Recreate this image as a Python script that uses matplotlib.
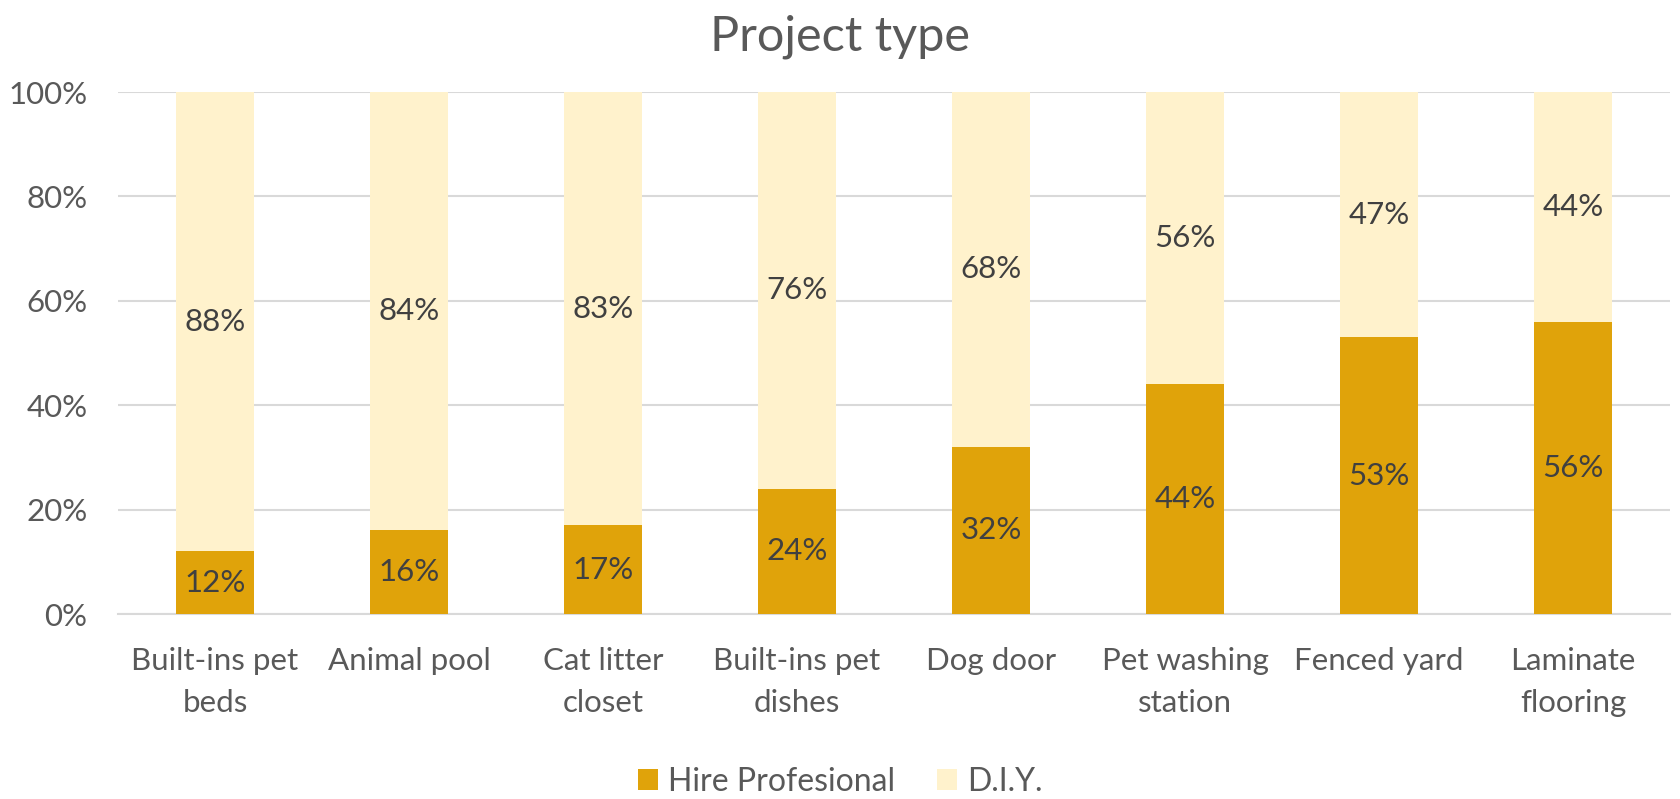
import numpy as np
import matplotlib
matplotlib.use("Agg")
import matplotlib.pyplot as plt

plt.rcParams['font.family'] = ['Lato', 'DejaVu Sans']

# данные
categories = ['Built-ins pet\nbeds', 'Animal pool', 'Cat litter\ncloset', 'Built-ins pet\ndishes',
              'Dog door', 'Pet washing\nstation', 'Fenced yard', 'Laminate\nflooring']
hire = [12, 16, 17, 24, 32, 44, 53, 56]
diy = [88, 84, 83, 76, 68, 56, 47, 44]

c_hire = '#E0A30A'
c_diy = '#FFF2CC'
grid_c = '#D9D9D9'
txt_c = '#595959'
lab_c = '#404040'

fig = plt.figure(figsize=(16.8, 7.99), dpi=100)
ax = fig.add_axes([118 / 1680, 1 - 614 / 799, 1552 / 1680, (614 - 92) / 799])

x = np.arange(len(categories))
b1 = ax.bar(x, hire, width=0.4, color=c_hire, label='Hire Profesional', zorder=3)
b2 = ax.bar(x, diy, width=0.4, bottom=hire, color=c_diy, label='D.I.Y.', zorder=3)

for i in range(len(x)):
    ax.text(x[i], hire[i] / 2, f'{hire[i]}%', ha='center', va='center',
            fontsize=22.5, color=lab_c, zorder=4)
    ax.text(x[i], hire[i] + diy[i] / 2, f'{diy[i]}%', ha='center', va='center',
            fontsize=22.5, color=lab_c, zorder=4)

ax.set_xlim(-0.5, len(x) - 0.5)
ax.set_ylim(0, 100)
ax.set_yticks(np.arange(0, 101, 20))
ax.set_yticklabels([f'{v}%' for v in range(0, 101, 20)])
ax.set_xticks(x)
ax.set_xticklabels(categories, linespacing=1.6)
ax.tick_params(axis='both', length=0, labelsize=22.5, labelcolor=txt_c)
ax.tick_params(axis='x', pad=24)
ax.tick_params(axis='y', pad=22)
ax.grid(axis='y', color=grid_c, linewidth=1.5, zorder=0)
for s in ['top', 'right', 'left']:
    ax.spines[s].set_visible(False)
ax.spines['bottom'].set_color(grid_c)
ax.spines['bottom'].set_linewidth(1.5)

fig.text(0.5, 1 - 37 / 799, 'Project type', ha='center', va='center', fontsize=35, color=txt_c)

fig.legend(handles=[b1, b2], loc='center', bbox_to_anchor=(0.5, 1 - 782 / 799), ncol=2,
           frameon=False, fontsize=23, labelcolor=txt_c, handlelength=0.65, handleheight=0.65,
           handletextpad=0.3, columnspacing=1.3)

fig.savefig('out.png', dpi=100)
